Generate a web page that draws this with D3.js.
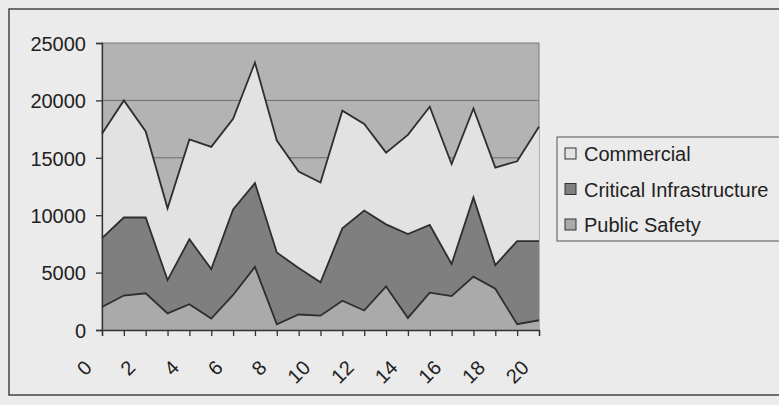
<!DOCTYPE html>
<html>
<head>
<meta charset="utf-8">
<script src="https://cdn.jsdelivr.net/npm/d3@7"></script>
<style>
  body { margin: 0; background: #ebebeb; }
  text { font-family: "Liberation Sans", Arial, sans-serif; fill: #222; }
</style>
</head>
<body>
<div class="container"></div>
<script>
// data
var xs = d3.range(0, 21);
var publicSafety = [2000, 3000, 3200, 1450, 2250, 1000, 3050, 5500, 500, 1350, 1250,
                    2550, 1700, 3800, 1050, 3250, 2950, 4650, 3600, 500, 850];
var critical = [6000, 6800, 6600, 2900, 5650, 4300, 7450, 7300, 6250, 4050, 2900,
                6300, 8700, 5400, 7300, 5900, 2800, 6900, 2050, 7250, 6900];
var commercial = [9100, 10200, 7500, 6250, 8700, 10650, 7900, 10500, 9750, 8400, 8700,
                  10250, 7550, 6250, 8650, 10300, 8700, 7750, 8500, 6950, 9950];
var seriesNames = ["Public Safety", "Critical Infrastructure", "Commercial"];
var yTicks = [0, 5000, 10000, 15000, 20000, 25000];
var xLabels = [0, 2, 4, 6, 8, 10, 12, 14, 16, 18, 20];

var fills = {"Public Safety": "#aaaaaa", "Critical Infrastructure": "#7f7f7f", "Commercial": "#e2e2e2"};

//Makes the stage
function makeStage(w, h) {
    var stage = d3.select(".container")
      .append("svg")
      .attr("width", w)
      .attr("height", h);
    return stage;
}

var svg = makeStage(779, 405);

// outer chart frame (runs off the right edge)
svg.append("rect")
   .attr("x", 9).attr("y", 9)
   .attr("width", 800).attr("height", 386)
   .attr("fill", "#ebebeb")
   .attr("stroke", "#444").attr("stroke-width", 1.5);

var plotLeft = 102, plotRight = 539, plotTop = 43, plotBottom = 330;

var x = d3.scaleLinear().domain([0, 20]).range([plotLeft, plotRight]);
var y = d3.scaleLinear().domain([0, 25000]).range([plotBottom, plotTop]);

// plot area
svg.append("rect")
   .attr("x", plotLeft).attr("y", plotTop)
   .attr("width", plotRight - plotLeft).attr("height", plotBottom - plotTop)
   .attr("fill", "#b3b3b3")
   .attr("stroke", "#7a7a7a").attr("stroke-width", 1);

// gridlines
svg.append("g").selectAll("line")
   .data(yTicks.slice(1, -1))
   .enter().append("line")
   .attr("x1", plotLeft).attr("x2", plotRight)
   .attr("y1", function(d) { return y(d); })
   .attr("y2", function(d) { return y(d); })
   .attr("stroke", "#6e6e6e").attr("stroke-width", 1);

// stacked areas
var rows = xs.map(function(d, i) {
    return {"x": d, "Public Safety": publicSafety[i],
            "Critical Infrastructure": critical[i], "Commercial": commercial[i]};
});
var stack = d3.stack().keys(seriesNames);
var layers = stack(rows);

var area = d3.area()
    .x(function(d) { return x(d.data.x); })
    .y0(function(d) { return y(d[0]); })
    .y1(function(d) { return y(d[1]); });

var topLine = d3.line()
    .x(function(d) { return x(d.data.x); })
    .y(function(d) { return y(d[1]); });

svg.append("g").selectAll("path")
   .data(layers)
   .enter().append("path")
   .attr("d", area)
   .attr("fill", function(d) { return fills[d.key]; });

svg.append("g").selectAll("path")
   .data(layers)
   .enter().append("path")
   .attr("d", topLine)
   .attr("fill", "none")
   .attr("stroke", "#2e2e2e")
   .attr("stroke-width", 1.8)
   .attr("stroke-linejoin", "miter");

// y axis
var yAxis = d3.axisLeft(y).tickValues(yTicks).tickSize(6).tickPadding(10)
    .tickFormat(d3.format("d"));
var gy = svg.append("g").attr("transform", "translate(" + plotLeft + ",0)").call(yAxis);
gy.selectAll("text").style("font-size", "20px").attr("dy", "0.36em");
gy.selectAll("line, path").attr("stroke", "#333").attr("stroke-width", 1.3);

// x axis
var xAxis = d3.axisBottom(x).tickValues(xs).tickSize(6)
    .tickFormat(function(d) { return xLabels.indexOf(d) >= 0 ? d : ""; });
var gx = svg.append("g").attr("transform", "translate(0," + plotBottom + ")").call(xAxis);
gx.selectAll("line, path").attr("stroke", "#333").attr("stroke-width", 1.3);
gx.selectAll("text")
  .style("font-size", "20px")
  .attr("text-anchor", "end")
  .attr("x", 0).attr("y", 0).attr("dy", 0)
  .attr("transform", "translate(-9.5,39) rotate(-45)");

// legend
var legend = svg.append("g");
legend.append("rect")
      .attr("x", 557).attr("y", 137)
      .attr("width", 240).attr("height", 104)
      .attr("fill", "#ebebeb")
      .attr("stroke", "#555").attr("stroke-width", 1);

var legendOrder = ["Commercial", "Critical Infrastructure", "Public Safety"];
var items = legend.selectAll("g.item")
    .data(legendOrder)
    .enter().append("g")
    .attr("class", "item")
    .attr("transform", function(d, i) { return "translate(565," + (154 + i * 35.5) + ")"; });

items.append("rect")
     .attr("x", 0).attr("y", -6)
     .attr("width", 11).attr("height", 11)
     .attr("fill", function(d) { return fills[d]; })
     .attr("stroke", "#333").attr("stroke-width", 1);

items.append("text")
     .attr("x", 19).attr("y", 0).attr("dy", "0.36em")
     .style("font-size", "20px")
     .text(function(d) { return d; });
</script>
</body>
</html>
